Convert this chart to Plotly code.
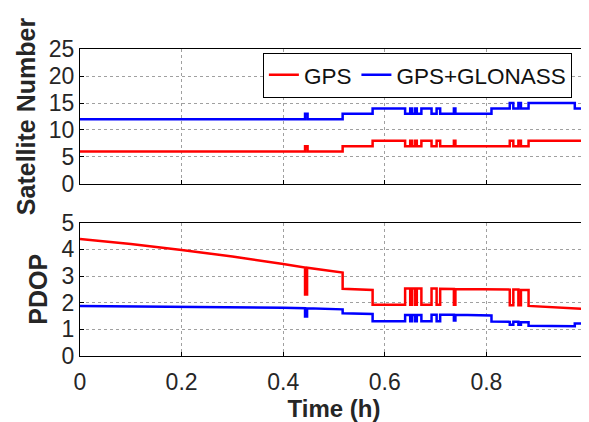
import plotly.graph_objects as go

# ---- data (time in hours) ----
sat_time = [0, 0.443, 0.448, 0.517, 0.576, 0.640, 0.650, 0.654, 0.660, 0.663, 0.672, 0.692,
            0.702, 0.709, 0.736, 0.739, 0.810, 0.846, 0.853, 0.863, 0.868, 0.883, 0.974, 1.0]
sat_gps = [6, 7, 6, 7, 8, 7, 8, 7, 8, 7, 8, 7, 8, 7, 8, 7, 7, 8, 7, 8, 7, 8, 8, 8]
sat_glo = [12, 13, 12, 13, 14, 13, 14, 13, 14, 13, 14, 13, 14, 13, 14, 13, 14, 15, 14, 15, 14, 15, 14, 14]

pdop_time_gps = [0, 0.1, 0.2, 0.3, 0.4, 0.443, 0.443, 0.447, 0.447, 0.517, 0.517, 0.576, 0.576,
                 0.640, 0.640, 0.650, 0.650, 0.654, 0.654, 0.660, 0.660, 0.663, 0.663, 0.672, 0.672,
                 0.692, 0.692, 0.702, 0.702, 0.709, 0.709, 0.736, 0.736, 0.739, 0.739,
                 0.846, 0.846, 0.853, 0.853, 0.863, 0.863, 0.868, 0.868, 0.883, 0.883, 1.0]
pdop_gps = [4.39, 4.20, 3.98, 3.73, 3.45, 3.32, 2.31, 2.31, 3.31, 3.13, 2.52, 2.48, 1.92,
            1.92, 2.53, 2.53, 1.92, 1.92, 2.53, 2.53, 1.92, 1.92, 2.53, 2.53, 1.92,
            1.92, 2.53, 2.53, 1.92, 1.92, 2.52, 2.51, 1.92, 1.92, 2.51,
            2.49, 1.90, 1.90, 2.49, 2.49, 1.90, 1.90, 2.48, 2.48, 1.88, 1.76]

pdop_time_glo = [0, 0.2, 0.4, 0.443, 0.443, 0.447, 0.447, 0.517, 0.517, 0.576, 0.576,
                 0.640, 0.640, 0.650, 0.650, 0.654, 0.654, 0.660, 0.660, 0.663, 0.663, 0.672, 0.672,
                 0.692, 0.692, 0.702, 0.702, 0.709, 0.709, 0.736, 0.736, 0.739, 0.739,
                 0.810, 0.810, 0.846, 0.846, 0.853, 0.853, 0.863, 0.863, 0.868, 0.868,
                 0.883, 0.883, 0.974, 0.974, 1.0]
pdop_glo = [1.875, 1.85, 1.81, 1.79, 1.48, 1.48, 1.79, 1.75, 1.60, 1.58, 1.30,
            1.30, 1.54, 1.54, 1.30, 1.30, 1.54, 1.54, 1.30, 1.30, 1.54, 1.54, 1.30,
            1.30, 1.55, 1.55, 1.30, 1.30, 1.55, 1.55, 1.33, 1.33, 1.55,
            1.52, 1.29, 1.28, 1.17, 1.17, 1.28, 1.28, 1.17, 1.17, 1.27,
            1.27, 1.13, 1.12, 1.22, 1.22]

x_ticks = [0, 0.2, 0.4, 0.6, 0.8, 1]
x_tick_labels = ["0", "0.2", "0.4", "0.6", "0.8", "1"]
sat_ticks = [0, 5, 10, 15, 20, 25]
pdop_ticks = [0, 1, 2, 3, 4, 5]

RED = "#ff0000"
BLUE = "#0000ff"
FONT = "Liberation Sans, Arial, sans-serif"

fig = go.Figure()
fig.add_trace(go.Scatter(x=sat_time, y=sat_gps, mode="lines", line=dict(color=RED, width=2.5, shape="hv"),
                         name="GPS", xaxis="x", yaxis="y"))
fig.add_trace(go.Scatter(x=sat_time, y=sat_glo, mode="lines", line=dict(color=BLUE, width=2.5, shape="hv"),
                         name="GPS+GLONASS", xaxis="x", yaxis="y"))
fig.add_trace(go.Scatter(x=pdop_time_gps, y=pdop_gps, mode="lines", line=dict(color=RED, width=2.5),
                         showlegend=False, xaxis="x2", yaxis="y2"))
fig.add_trace(go.Scatter(x=pdop_time_glo, y=pdop_glo, mode="lines", line=dict(color=BLUE, width=2.5),
                         showlegend=False, xaxis="x2", yaxis="y2"))

axis_common = dict(showline=True, linecolor="black", linewidth=1, mirror=True,
                   showgrid=True, gridcolor="#a0a0a0", griddash="dot", gridwidth=1,
                   ticks="inside", ticklen=4, tickcolor="black", zeroline=False,
                   automargin=False,
                   tickfont=dict(family=FONT, size=23, color="#262626"))
Y_TITLE_FONT = dict(family=FONT, size=25, color="#262626")
X_TITLE_FONT = dict(family=FONT, size=24, color="#262626")

# page body adds an 8px offset, so the figure is 8px smaller than the window
fig.update_layout(
    width=581, height=414,
    margin=dict(l=72, r=1, t=41, b=66, autoexpand=False),
    paper_bgcolor="white", plot_bgcolor="white",
    font=dict(family=FONT, color="#262626"),
    showlegend=True,
    legend=dict(orientation="h", x=0.36, y=0.988, xanchor="left", yanchor="top",
                bordercolor="black", borderwidth=1, bgcolor="white",
                font=dict(family=FONT, size=22.5, color="#111"),
                itemwidth=30, tracegroupgap=0),
    xaxis=dict(domain=[0, 1], range=[0, 1], tickvals=x_ticks, showticklabels=False,
               anchor="y", **axis_common),
    yaxis=dict(domain=[0.5603, 1], range=[0, 25], tickvals=sat_ticks, anchor="x",
               title=dict(text="<b>Satellite Number</b>", font=Y_TITLE_FONT, standoff=6),
               **axis_common),
    xaxis2=dict(domain=[0, 1], range=[0, 1], tickvals=x_ticks, ticktext=x_tick_labels, anchor="y2",
                ticklabelstandoff=5, ticklabeloverflow="allow",
                title=dict(text="<b>Time (h)</b>", font=X_TITLE_FONT, standoff=4),
                **axis_common),
    yaxis2=dict(domain=[0, 0.4342], range=[0, 5], tickvals=pdop_ticks, anchor="x2",
                title=dict(text="<b>PDOP</b>", font=Y_TITLE_FONT, standoff=6),
                **axis_common),
)

fig.write_html("out.html")
